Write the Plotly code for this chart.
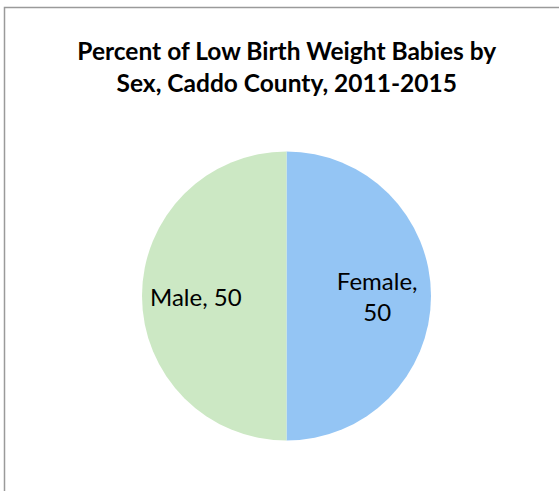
import plotly.graph_objects as go

# data
labels = ['Female', 'Male']
values = [50, 50]
# padding spaces nudge the labels outward like the original
label_text = ['\u00a0' * 6 + 'Female,<br>' + '\u00a0' * 6 + '50', 'Male, 50' + '\u00a0' * 6]

COLOR_FEMALE = '#94C5F4'
COLOR_MALE = '#CCE8C4'

W, H = 559, 491
cx, cy, r = 286.5, 296, 144.5

fig = go.Figure()
fig.add_trace(go.Pie(
    labels=labels,
    values=values,
    text=label_text,
    textinfo='text',
    textposition='inside',
    insidetextorientation='horizontal',
    textfont=dict(family='Lato, Carlito, sans-serif', size=24, color='black'),
    marker=dict(colors=[COLOR_FEMALE, COLOR_MALE], line=dict(width=0)),
    sort=False,
    direction='clockwise',
    rotation=0,
    showlegend=False,
    hoverinfo='label+value',
    domain=dict(x=[(cx - r) / W, (cx + r) / W], y=[(H - cy - r) / H, (H - cy + r) / H]),
))

# outer chart border (cut off on right/bottom in the reference)
fig.add_shape(type='rect', xref='paper', yref='paper',
              x0=4.5 / W, x1=1.2, y0=-0.2, y1=1 - 7.5 / H,
              line=dict(color='#9A9A9A', width=1.5))

fig.update_layout(
    width=W, height=H,
    margin=dict(l=0, r=0, t=0, b=0),
    paper_bgcolor='white',
    uniformtext=dict(minsize=24, mode='show'),
    title=dict(
        text='<b>Percent of Low Birth Weight Babies by<br>Sex, Caddo County, 2011-2015</b>',
        x=0.513, xanchor='center', y=1 - 60 / H, yanchor='middle',
        font=dict(family='Lato, Carlito, sans-serif', size=24.5, color='black'),
    ),
)

fig.write_html('out.html', config={'displayModeBar': False},
               post_script="document.body.style.margin='0';document.body.style.overflow='hidden';")
